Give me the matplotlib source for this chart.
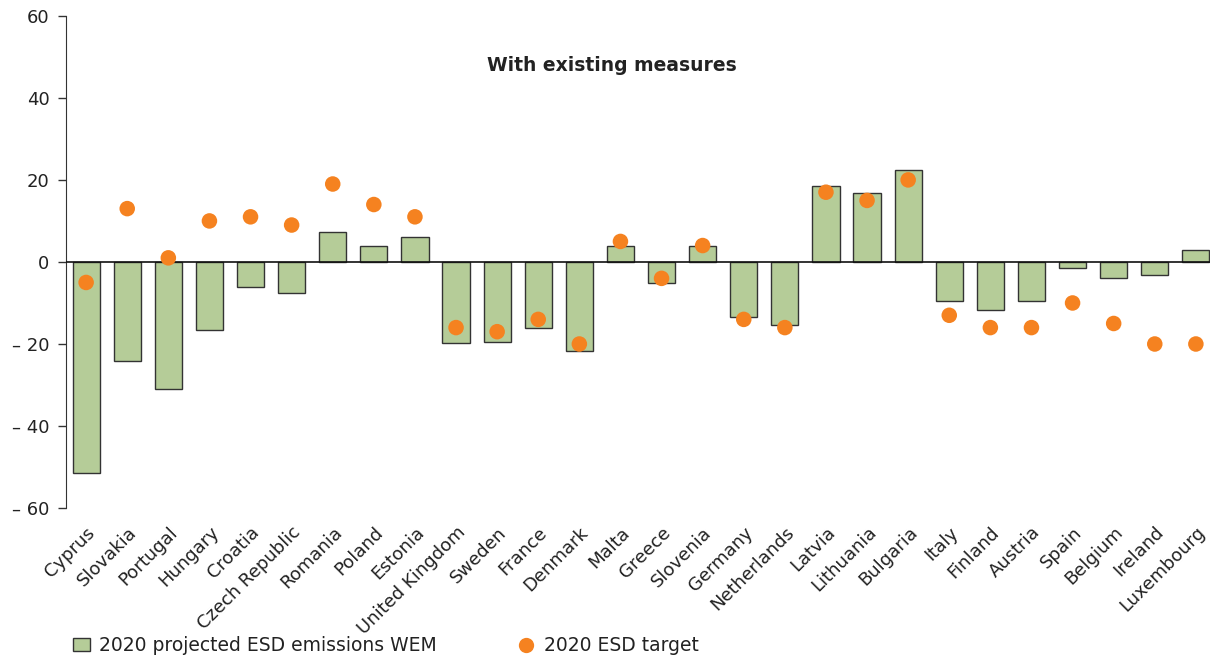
import matplotlib
matplotlib.use("Agg")
import matplotlib.pyplot as plt
from matplotlib.lines import Line2D
from matplotlib.patches import Patch
import numpy as np

countries = ["Cyprus", "Slovakia", "Portugal", "Hungary", "Croatia", "Czech Republic",
             "Romania", "Poland", "Estonia", "United Kingdom", "Sweden", "France",
             "Denmark", "Malta", "Greece", "Slovenia", "Germany", "Netherlands",
             "Latvia", "Lithuania", "Bulgaria", "Italy", "Finland", "Austria",
             "Spain", "Belgium", "Ireland", "Luxembourg"]
wem = [-51.5, -24.1, -31.0, -16.6, -6.0, -7.5, 7.3, 3.9, 6.1, -19.7, -19.5, -16.1,
       -21.7, 3.9, -5.1, 3.9, -13.5, -15.4, 18.5, 16.8, 22.4, -9.5, -11.7, -9.5,
       -1.5, -3.9, -3.2, 2.9]
target = [-5, 13, 1, 10, 11, 9, 19, 14, 11, -16, -17, -14, -20, 5, -4, 4, -14, -16,
          17, 15, 20, -13, -16, -16, -10, -15, -20, -20]
yticks = [-60, -40, -20, 0, 20, 40, 60]
ytick_labels = ["\u2013 60", "\u2013 40", "\u2013 20", "0", "20", "40", "60"]

green = "#b5cc98"
orange = "#f58220"
text_color = "#222222"

plt.rcParams["font.family"] = "DejaVu Sans"

fig = plt.figure(figsize=(12.13, 6.59), dpi=100)
ax = fig.add_axes([0.0544, 0.229, 0.943, 0.747])

x = np.arange(len(countries))
ax.bar(x, wem, width=0.66, color=green, edgecolor="#333333", linewidth=1.0, zorder=2)
ax.axhline(0, color="#111111", linewidth=1.2, zorder=3)
ax.scatter(x, target, s=125, color=orange, zorder=4, edgecolors="none")

ax.set_xlim(-0.49, 27.34)
ax.set_ylim(-60, 60)
ax.set_yticks(yticks)
ax.set_yticklabels(ytick_labels, fontsize=13, color=text_color)
ax.set_xticks(x)
ax.set_xticklabels(countries, rotation=45, ha="right", rotation_mode="anchor",
                   fontsize=13, color=text_color)
ax.tick_params(axis="x", length=0, pad=11)
ax.tick_params(axis="y", length=6, width=1, color="#333333", direction="out", pad=6)
for s in ["top", "right", "bottom"]:
    ax.spines[s].set_visible(False)
ax.spines["left"].set_color("#333333")

ax.text(0.477, 0.90, "With existing measures", transform=ax.transAxes,
        ha="center", va="center", fontsize=13.5, fontweight="bold", color=text_color)

handles = [Patch(facecolor=green, edgecolor="#333333", linewidth=1.0),
           Line2D([], [], marker="o", linestyle="none", markersize=11,
                  markerfacecolor=orange, markeredgecolor="none")]
labels = ["2020 projected ESD emissions WEM", "2020 ESD target"]
fig.legend(handles, labels, loc="lower left", bbox_to_anchor=(0.046, -0.02), ncol=2,
           frameon=False, fontsize=13.5, columnspacing=4.3, handlelength=0.9,
           handletextpad=0.5, labelcolor=text_color)

fig.savefig("out.png", dpi=100)
